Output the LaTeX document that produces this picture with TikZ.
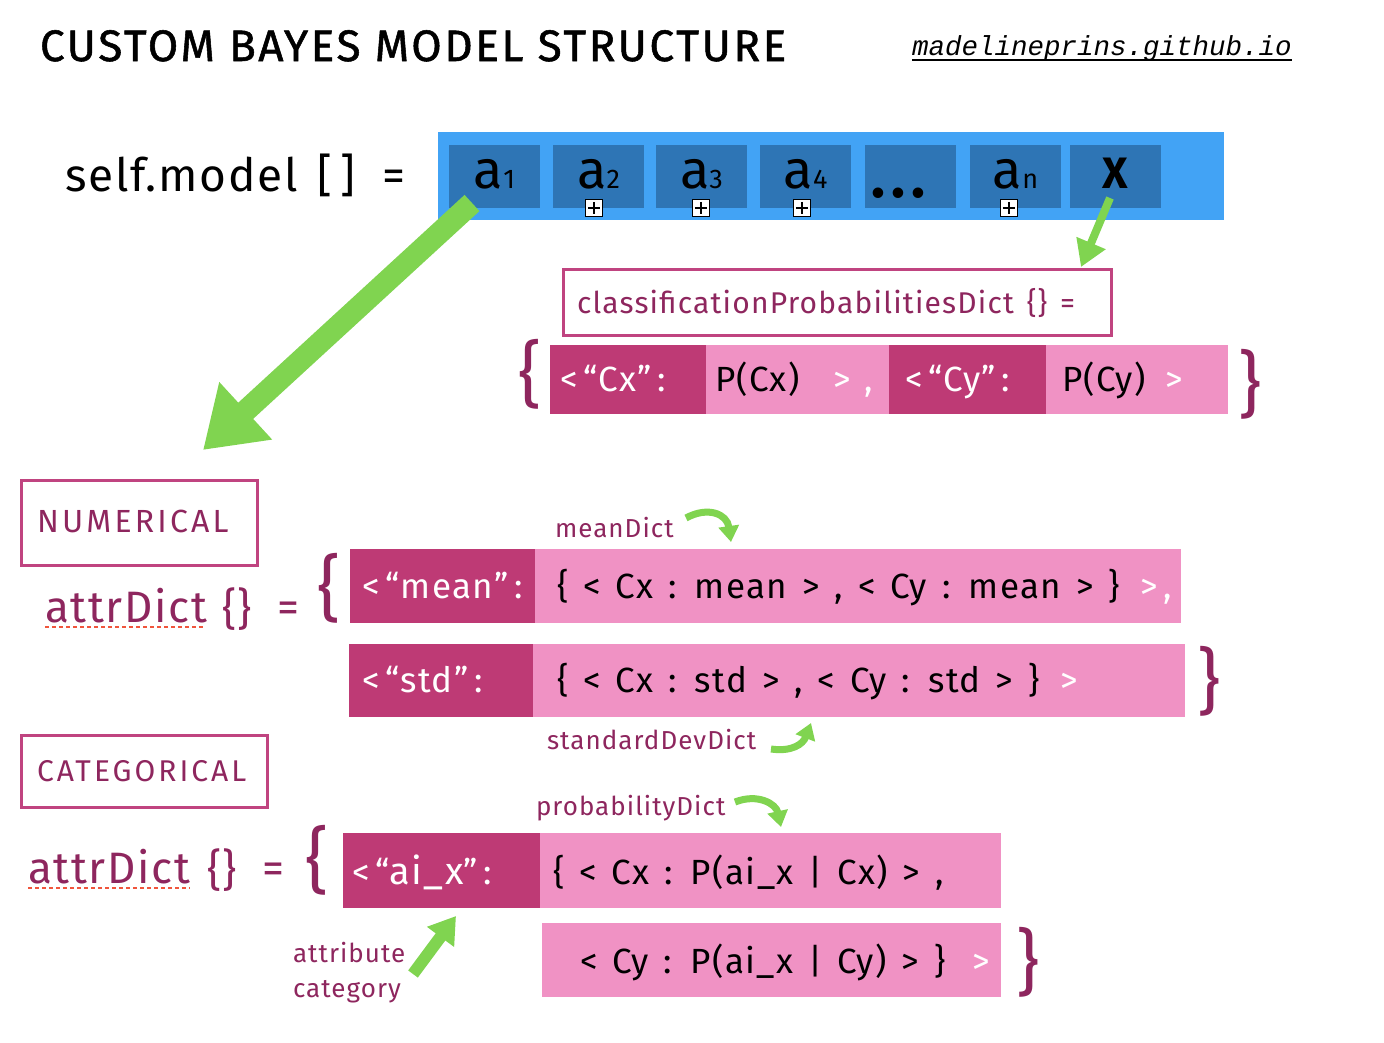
\documentclass[tikz,border=0pt]{standalone}
\usepackage{fontspec}
\setmainfont{Fira Sans}[LetterSpace=4,WordSpace=1.4]
\newfontfamily\titlefont{Fira Sans}[LetterSpace=6,FakeBold=1.2]
\newfontfamily\capsfont{Fira Sans}[LetterSpace=10]
\newfontfamily\urlfont{Liberation Mono}
\usetikzlibrary{arrows.meta}
\definecolor{bluebg}{RGB}{66,163,245}
\definecolor{bluecell}{RGB}{46,117,181}
\definecolor{magdark}{RGB}{190,58,117}
\definecolor{pinklight}{RGB}{240,146,196}
\definecolor{magtext}{RGB}{142,38,94}
\definecolor{magline}{RGB}{192,68,128}
\definecolor{arrowgreen}{RGB}{128,212,80}
\definecolor{dotred}{RGB}{240,85,60}
\newcommand{\fs}[1]{\fontsize{#1}{#1}\selectfont}
\tikzset{
  cellbox/.style={inner sep=0pt, outer sep=0pt, anchor=north west},
  outbox/.style={draw=magline, line width=3pt, inner sep=0pt, anchor=north west},
  txt/.style={inner sep=0pt, outer sep=0pt, anchor=base west},
  whitetxt/.style={txt, text=white, font=\fs{35}},
  blacktxt/.style={txt, text=black, font=\fs{35}},
  magtxt/.style={txt, text=magtext},
  labeltxt/.style={txt, text=magtext, font=\fs{26}},
  bracetxt/.style={inner sep=0pt, outer sep=0pt, anchor=center, text=magtext, font=\fs{72}},
  celltxt/.style={inner sep=0pt, anchor=base, font=\fs{54}},
  greenarrow/.style={draw=arrowgreen, line cap=butt},
  plusbox/.style={draw=black, fill=white, line width=1.3pt, minimum size=17pt, inner sep=0pt},
  dotline/.style={draw=dotred, line width=2.5pt, dash pattern=on 4pt off 3pt}
}
\begin{document}
\begin{tikzpicture}[x=1pt,y=-1pt]
\useasboundingbox[fill=white] (0,0) rectangle (1384,1042);

% title and url
\node[txt, font=\titlefont\fs{44}] (title) at (40,61) {CUSTOM BAYES MODEL STRUCTURE};
\node[txt, font=\urlfont\itshape\fs{27.5}] (url) at (912,55) {madelineprins.github.io};
\draw[line width=1.8pt] (url.south west) ++(0,-1) coordinate (u1) (u1) -- (u1 -| url.south east);

% self.model
\node[txt, font=\fs{46}] (selfmodel) at (65,191) {self.model [\,] \,=};

% blue array
\node[cellbox, fill=bluebg, minimum width=786pt, minimum height=88pt] (array) at (438,132) {};
\foreach \nm/\xx in {c1/449,c2/553,c3/656,c4/760,c5/865,c6/970,c7/1070}{
  \node[cellbox, fill=bluecell, minimum width=91pt, minimum height=63pt] (\nm) at (\xx,145) {};
}
\node[celltxt] at ([yshift=-43pt]c1.north) {a{\fs{27}1}};
\node[celltxt] at ([yshift=-43pt]c2.north) {a{\fs{27}2}};
\node[celltxt] at ([yshift=-43pt]c3.north) {a{\fs{27}3}};
\node[celltxt] at ([yshift=-43pt]c4.north) {a{\fs{27}4}};
\node[celltxt, font=\bfseries\fs{58}] at ([yshift=-52pt,xshift=-12pt]c5.north) {.\hspace{6pt}.\hspace{6pt}.};
\node[celltxt] at ([yshift=-43pt]c6.north) {a{\fs{27}n}};
\node[celltxt, font=\bfseries\fs{44}] at ([yshift=-43pt]c7.north) {X};
\foreach \nm/\xx in {p2/594,p3/701,p4/802,p6/1009}{
  \node[plusbox] (\nm) at (\xx,208) {};
  \draw[line width=1.6pt] ([yshift=-3pt]\nm.north) -- ([yshift=3pt]\nm.south);
  \draw[line width=1.6pt] ([xshift=3pt]\nm.west) -- ([xshift=-3pt]\nm.east);
}

% green arrows from the array
\coordinate (bigS) at (472,203);
\coordinate (bigT) at (203,450);
\draw[greenarrow, line width=22pt, -{Triangle[length=58pt,width=74pt]}] (bigS) -- (bigT);
\coordinate (xS) at (1110,198);
\coordinate (xT) at (1081,267);
\draw[greenarrow, line width=8pt, -{Triangle[length=26pt,width=30pt]}] (xS) -- (xT);

% classification probabilities
\node[outbox, minimum width=548pt, minimum height=66pt] (cpbox) at (562,268) {};
\node[magtxt, font=\fs{30}] (cptext) at (577,313) {classificationProbabilitiesDict \{\} =};
\node[cellbox, fill=magdark, minimum width=156pt, minimum height=69pt] (cp1) at (550,345) {};
\node[cellbox, fill=pinklight, minimum width=183pt, minimum height=69pt] (cp2) at (706,345) {};
\node[cellbox, fill=magdark, minimum width=157pt, minimum height=69pt] (cp3) at (889,345) {};
\node[cellbox, fill=pinklight, minimum width=182pt, minimum height=69pt] (cp4) at (1046,345) {};
\node[whitetxt] at (560,391) {<\,“Cx”\,:};
\node[blacktxt] at (715,391) {P(Cx)};
\node[whitetxt] at (833,391) {>};
\node[whitetxt] at (864,391) {,};
\node[whitetxt] at (905,391) {<\,“Cy”\,:};
\node[blacktxt] at (1062,391) {P(Cy)};
\node[whitetxt] at (1165,391) {>};
\node[bracetxt] (cpL) at (530,374) {\{};
\node[bracetxt] (cpR) at (1250,384) {\}};

% numerical
\node[outbox, minimum width=236pt, minimum height=85pt] (numbox) at (20,479) {};
\node[magtxt, font=\capsfont\fs{32}] at (37,532) {NUMERICAL};
\node[magtxt, font=\fs{44}] (ad1) at (45,622) {attrDict};
\node[magtxt, font=\fs{44}] at (222,624) {\{\}};
\node[magtxt, font=\fs{44}] at (277,622) {=};
\draw[dotline] (45,627) -- (205,627);
\node[bracetxt] (numL) at (329,588) {\{};

\node[cellbox, fill=magdark, minimum width=185pt, minimum height=74pt] (mean1) at (350,549) {};
\node[cellbox, fill=pinklight, minimum width=646pt, minimum height=74pt] (mean2) at (535,549) {};
\node[whitetxt] at (362,598) {<\,“mean”\,:};
\node[blacktxt] at (557,598) {\{ < Cx : mean > , < Cy : mean > \}};
\node[whitetxt] at (1140,598) {>\,,};
\node[labeltxt] (meanlab) at (555,537) {meanDict};
\coordinate (mA) at (686,518);
\coordinate (mB) at (731,542);
\draw[greenarrow, line width=7pt, -{Triangle[length=16pt,width=20pt]}] (mA) .. controls (708,506) and (727,514) .. (mB);

\node[cellbox, fill=magdark, minimum width=184pt, minimum height=73pt] (std1) at (349,644) {};
\node[cellbox, fill=pinklight, minimum width=652pt, minimum height=73pt] (std2) at (533,644) {};
\node[whitetxt] at (362,692) {<\,“std”\,:};
\node[blacktxt] at (557,692) {\{ < Cx : std > , < Cy : std > \}};
\node[whitetxt] at (1060,692) {>};
\node[bracetxt] (numR) at (1209,681) {\}};
\node[labeltxt] (stdlab) at (547,749) {standardDevDict};
\coordinate (sA) at (771,749);
\coordinate (sB) at (811,723);
\draw[greenarrow, line width=7pt, -{Triangle[length=16pt,width=20pt]}] (sA) .. controls (792,752) and (803,744) .. (sB);

% categorical
\node[outbox, minimum width=246pt, minimum height=72pt] (catbox) at (20,734) {};
\node[magtxt, font=\capsfont\fs{30}] at (37,781) {CATEGORICAL};
\node[magtxt, font=\fs{44}] (ad2) at (28,883) {attrDict};
\node[magtxt, font=\fs{44}] at (207,885) {\{\}};
\node[magtxt, font=\fs{44}] at (262,883) {=};
\draw[dotline] (28,888) -- (190,888);
\node[bracetxt] (catL) at (317,860) {\{};

\node[cellbox, fill=magdark, minimum width=197pt, minimum height=75pt] (ai1) at (343,833) {};
\node[cellbox, fill=pinklight, minimum width=461pt, minimum height=75pt] (ai2) at (540,833) {};
\node[whitetxt] at (352,884) {<\,“{\fs{38}ai\_x}”\,:};
\node[blacktxt] at (553,884) {\{ < Cx : P(ai\_x | Cx) > ,};
\node[labeltxt] (problab) at (536,815) {probabilityDict};
\coordinate (pA) at (735,802);
\coordinate (pB) at (781,827);
\draw[greenarrow, line width=7pt, -{Triangle[length=16pt,width=20pt]}] (pA) .. controls (758,793) and (776,804) .. (pB);

\node[cellbox, fill=pinklight, minimum width=459pt, minimum height=74pt] (ai3) at (542,923) {};
\node[blacktxt] at (580,973) {< Cy : P(ai\_x | Cy) > \}};
\node[whitetxt] at (972,973) {>};
\node[bracetxt] (catR) at (1028,962) {\}};
\node[labeltxt] (attrlab) at (293,962) {attribute};
\node[labeltxt] (catlab) at (293,997) {category};
\coordinate (aA) at (413,974);
\coordinate (aB) at (456,916);
\draw[greenarrow, line width=12pt, -{Triangle[length=26pt,width=32pt]}] (aA) -- (aB);
\end{tikzpicture}
\end{document}
